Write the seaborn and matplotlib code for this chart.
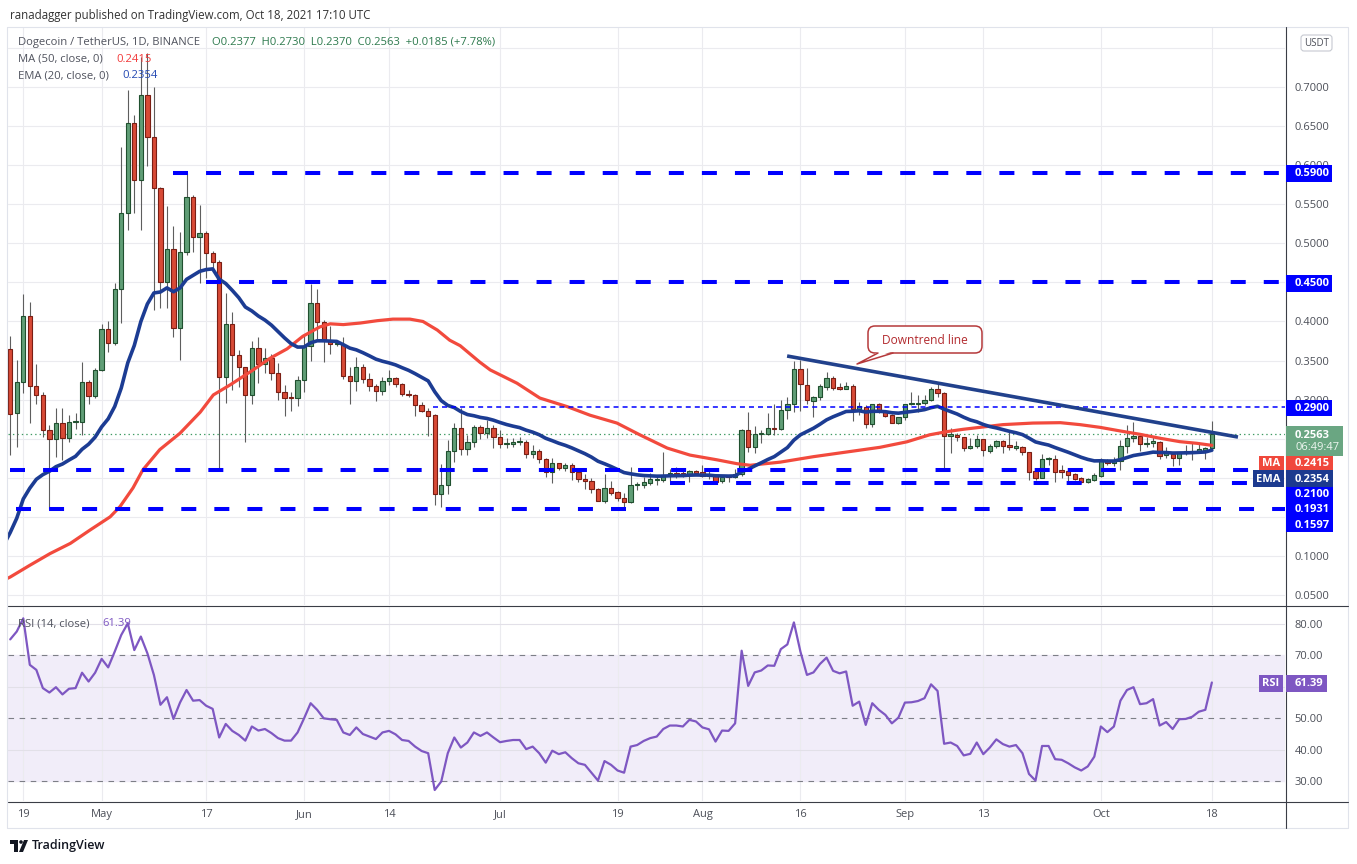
import numpy as np
import pandas as pd
import matplotlib
matplotlib.use("Agg")
import matplotlib.pyplot as plt
import seaborn as sns
from matplotlib.patches import Rectangle, FancyBboxPatch, Polygon, Circle
from matplotlib.lines import Line2D
from matplotlib.transforms import IdentityTransform

# daily candles, Apr 17 2021 .. Oct 18 2021 (DOGE/USDT)
opens = [
    0.3650, 0.2824, 0.3220, 0.4074, 0.3174, 0.3060, 0.2610, 0.2490, 0.2696, 0.2504,
    0.2709, 0.2717, 0.3220, 0.3046, 0.3379, 0.3903, 0.3728, 0.4410, 0.5392, 0.6535,
    0.5810, 0.6897, 0.6364, 0.5703, 0.4500, 0.4927, 0.3912, 0.4884, 0.5588, 0.5076,
    0.5127, 0.4880, 0.4756, 0.3284, 0.3963, 0.3566, 0.3413, 0.3054, 0.3656, 0.3451,
    0.3528, 0.3336, 0.3101, 0.3024, 0.3016, 0.3250, 0.3690, 0.4232, 0.3997, 0.3754,
    0.3707, 0.3712, 0.3306, 0.3242, 0.3421, 0.3259, 0.3178, 0.3114, 0.3238, 0.3272,
    0.3200, 0.3067, 0.3054, 0.2926, 0.2850, 0.2803, 0.1787, 0.1903, 0.2342, 0.2633,
    0.2364, 0.2453, 0.2645, 0.2569, 0.2633, 0.2526, 0.2428, 0.2437, 0.2454, 0.2454,
    0.2300, 0.2343, 0.2236, 0.2070, 0.2185, 0.2130, 0.2159, 0.2070, 0.1989, 0.1963,
    0.1856, 0.1707, 0.1873, 0.1814, 0.1737, 0.1694, 0.1903, 0.1903, 0.1937, 0.1972,
    0.1968, 0.2032, 0.2057, 0.2057, 0.2044, 0.2087, 0.2070, 0.2027, 0.2031, 0.1959,
    0.2023, 0.2006, 0.2044, 0.2607, 0.2389, 0.2556, 0.2560, 0.2637, 0.2624, 0.2867,
    0.2940, 0.3392, 0.3187, 0.2987, 0.3029, 0.3166, 0.3272, 0.3153, 0.3140, 0.3170,
    0.2876, 0.2910, 0.2684, 0.2940, 0.2855, 0.2799, 0.2705, 0.2773, 0.2940, 0.2944,
    0.2953, 0.2995, 0.3136, 0.3089, 0.2539, 0.2547, 0.2518, 0.2385, 0.2407, 0.2496,
    0.2347, 0.2406, 0.2470, 0.2419, 0.2385, 0.2398, 0.2325, 0.2087, 0.2001, 0.2236,
    0.2236, 0.2087, 0.2087, 0.2048, 0.1997, 0.1950, 0.1971, 0.2023, 0.2228, 0.2185,
    0.2215, 0.2411, 0.2513, 0.2534, 0.2432, 0.2441, 0.2462, 0.2291, 0.2304, 0.2249,
    0.2321, 0.2330, 0.2334, 0.2360, 0.2377]
highs = [
    0.3810, 0.3506, 0.4347, 0.4244, 0.3460, 0.3100, 0.2680, 0.2888, 0.2888, 0.2803,
    0.2824, 0.3485, 0.3250, 0.3400, 0.3967, 0.4000, 0.4487, 0.6236, 0.6961, 0.6641,
    0.7390, 0.7430, 0.7004, 0.5720, 0.5480, 0.5220, 0.5150, 0.5895, 0.5622, 0.5490,
    0.5160, 0.4905, 0.4786, 0.4360, 0.4125, 0.3630, 0.3420, 0.3750, 0.3796, 0.3656,
    0.3580, 0.3464, 0.3186, 0.3101, 0.3300, 0.3839, 0.4479, 0.4415, 0.4020, 0.3946,
    0.3740, 0.3796, 0.3413, 0.3540, 0.3450, 0.3336, 0.3195, 0.3293, 0.3378, 0.3293,
    0.3217, 0.3120, 0.3067, 0.2973, 0.2897, 0.2812, 0.2176, 0.2483, 0.2697, 0.2889,
    0.2547, 0.2675, 0.2675, 0.2739, 0.2675, 0.2611, 0.2505, 0.2505, 0.2526, 0.2483,
    0.2419, 0.2364, 0.2249, 0.2249, 0.2190, 0.2185, 0.2185, 0.2080, 0.2044, 0.1993,
    0.1870, 0.2044, 0.1958, 0.1835, 0.1801, 0.2142, 0.1950, 0.2014, 0.2057, 0.2036,
    0.2334, 0.2117, 0.2134, 0.2100, 0.2100, 0.2100, 0.2164, 0.2087, 0.2040, 0.2023,
    0.2031, 0.2117, 0.2620, 0.2837, 0.2662, 0.2611, 0.2825, 0.2940, 0.2995, 0.3038,
    0.3499, 0.3507, 0.3409, 0.3046, 0.3196, 0.3358, 0.3302, 0.3217, 0.3230, 0.3196,
    0.2974, 0.2931, 0.2945, 0.2953, 0.2860, 0.2816, 0.2782, 0.2945, 0.3093, 0.3059,
    0.3059, 0.3166, 0.3208, 0.3102, 0.2633, 0.2577, 0.2526, 0.2505, 0.2547, 0.2500,
    0.2428, 0.2483, 0.2483, 0.2581, 0.2470, 0.2411, 0.2330, 0.2121, 0.2304, 0.2261,
    0.2291, 0.2163, 0.2100, 0.2057, 0.2006, 0.1993, 0.2057, 0.2249, 0.2236, 0.2270,
    0.2483, 0.2675, 0.2718, 0.2568, 0.2517, 0.2526, 0.2475, 0.2398, 0.2313, 0.2334,
    0.2419, 0.2441, 0.2453, 0.2398, 0.2730]
lows = [
    0.2290, 0.2398, 0.3080, 0.2696, 0.2950, 0.2525, 0.1595, 0.2270, 0.2227, 0.2460,
    0.2630, 0.2547, 0.2950, 0.3016, 0.3370, 0.3613, 0.3700, 0.3976, 0.5170, 0.5392,
    0.5170, 0.5990, 0.4146, 0.4167, 0.4167, 0.3805, 0.3506, 0.4850, 0.4893, 0.4487,
    0.4550, 0.4660, 0.2099, 0.2952, 0.3123, 0.3165, 0.2461, 0.2939, 0.3208, 0.3336,
    0.3250, 0.2995, 0.2794, 0.2858, 0.2922, 0.3101, 0.3498, 0.3762, 0.3485, 0.3583,
    0.3680, 0.3270, 0.2943, 0.3114, 0.3217, 0.3114, 0.2986, 0.3059, 0.3187, 0.3165,
    0.3046, 0.3037, 0.2794, 0.2845, 0.2538, 0.1651, 0.1621, 0.1792, 0.2206, 0.2291,
    0.2291, 0.2398, 0.2496, 0.2505, 0.2377, 0.2377, 0.2377, 0.2398, 0.2419, 0.2249,
    0.2249, 0.2185, 0.2006, 0.1937, 0.2100, 0.2091, 0.1972, 0.1950, 0.1856, 0.1801,
    0.1700, 0.1681, 0.1779, 0.1703, 0.1588, 0.1673, 0.1843, 0.1865, 0.1907, 0.1907,
    0.1950, 0.1959, 0.1993, 0.2010, 0.1950, 0.2044, 0.2014, 0.1980, 0.1929, 0.1937,
    0.1946, 0.1997, 0.2023, 0.2334, 0.2313, 0.2441, 0.2548, 0.2547, 0.2611, 0.2748,
    0.2846, 0.2859, 0.2944, 0.2773, 0.2995, 0.3123, 0.3123, 0.3123, 0.3132, 0.2727,
    0.2803, 0.2633, 0.2646, 0.2833, 0.2782, 0.2697, 0.2688, 0.2739, 0.2931, 0.2846,
    0.2931, 0.2982, 0.3038, 0.2129, 0.2313, 0.2475, 0.2343, 0.2364, 0.2377, 0.2279,
    0.2313, 0.2377, 0.2321, 0.2355, 0.2355, 0.2291, 0.1971, 0.1971, 0.1993, 0.2163,
    0.1950, 0.1993, 0.1937, 0.1971, 0.1937, 0.1937, 0.1963, 0.2006, 0.2163, 0.2151,
    0.2099, 0.2321, 0.2462, 0.2347, 0.2389, 0.2398, 0.2236, 0.2249, 0.2151, 0.2163,
    0.2291, 0.2227, 0.2313, 0.2236, 0.2370]
closes = [
    0.2815, 0.3220, 0.4074, 0.3174, 0.3060, 0.2610, 0.2490, 0.2696, 0.2504, 0.2709,
    0.2726, 0.3220, 0.3046, 0.3379, 0.3903, 0.3728, 0.4410, 0.5392, 0.6535, 0.5810,
    0.6897, 0.6364, 0.5703, 0.4500, 0.4927, 0.3912, 0.4884, 0.5588, 0.5076, 0.5127,
    0.4880, 0.4756, 0.3284, 0.3963, 0.3566, 0.3413, 0.3054, 0.3656, 0.3451, 0.3528,
    0.3336, 0.3101, 0.3016, 0.3016, 0.3250, 0.3690, 0.4232, 0.3997, 0.3754, 0.3707,
    0.3712, 0.3306, 0.3242, 0.3421, 0.3259, 0.3178, 0.3114, 0.3238, 0.3272, 0.3200,
    0.3067, 0.3054, 0.2926, 0.2850, 0.2794, 0.1787, 0.1903, 0.2342, 0.2633, 0.2364,
    0.2453, 0.2645, 0.2569, 0.2633, 0.2526, 0.2428, 0.2437, 0.2458, 0.2466, 0.2300,
    0.2343, 0.2236, 0.2070, 0.2185, 0.2130, 0.2159, 0.2070, 0.1989, 0.1963, 0.1852,
    0.1707, 0.1873, 0.1810, 0.1737, 0.1694, 0.1903, 0.1910, 0.1946, 0.1980, 0.1989,
    0.2032, 0.2057, 0.2032, 0.2044, 0.2087, 0.2057, 0.2027, 0.2020, 0.1950, 0.2006,
    0.2006, 0.2044, 0.2607, 0.2389, 0.2556, 0.2573, 0.2633, 0.2624, 0.2867, 0.2940,
    0.3392, 0.3196, 0.2995, 0.3029, 0.3174, 0.3272, 0.3153, 0.3140, 0.3170, 0.2876,
    0.2919, 0.2684, 0.2940, 0.2855, 0.2795, 0.2705, 0.2773, 0.2940, 0.2948, 0.2961,
    0.2995, 0.3136, 0.3081, 0.2539, 0.2547, 0.2518, 0.2385, 0.2407, 0.2496, 0.2355,
    0.2406, 0.2470, 0.2410, 0.2389, 0.2402, 0.2325, 0.2078, 0.1997, 0.2236, 0.2241,
    0.2078, 0.2078, 0.2040, 0.1988, 0.1950, 0.1984, 0.2035, 0.2228, 0.2185, 0.2215,
    0.2406, 0.2505, 0.2534, 0.2428, 0.2449, 0.2475, 0.2283, 0.2313, 0.2257, 0.2325,
    0.2334, 0.2343, 0.2364, 0.2377, 0.2563]

# RSI(14) as plotted under the candles
rsi_values = [
    75.1, 77.6, 81.8, 67.0, 65.4, 59.6, 58.2, 59.9, 57.6, 59.4,
    59.6, 64.5, 61.7, 64.5, 68.9, 66.2, 71.2, 76.5, 80.2, 71.7,
    76.0, 70.7, 63.8, 54.3, 56.7, 49.8, 55.0, 59.0, 55.6, 55.8,
    54.0, 53.0, 43.9, 48.2, 46.0, 44.7, 42.9, 47.4, 46.1, 46.6,
    45.3, 43.7, 42.9, 42.9, 45.5, 50.0, 54.8, 52.7, 50.0, 49.7,
    49.5, 45.5, 44.7, 47.1, 45.0, 44.2, 43.4, 45.5, 46.0, 44.9,
    43.1, 42.8, 41.0, 39.6, 38.9, 27.2, 29.9, 38.9, 43.9, 40.7,
    42.3, 45.5, 44.4, 45.5, 43.9, 42.4, 42.8, 43.1, 43.1, 40.2,
    41.0, 38.9, 35.9, 39.7, 38.6, 39.2, 37.3, 35.7, 35.2, 32.7,
    30.2, 36.4, 35.2, 33.4, 32.7, 41.0, 41.5, 42.8, 43.7, 44.2,
    46.6, 47.7, 47.7, 47.4, 49.5, 49.0, 47.1, 46.5, 42.6, 46.1,
    46.0, 48.4, 71.5, 60.3, 64.6, 65.2, 66.8, 66.7, 72.0, 73.5,
    80.5, 71.2, 63.8, 64.6, 67.3, 69.3, 65.1, 64.3, 64.9, 54.0,
    55.3, 47.9, 54.8, 52.7, 51.1, 48.4, 50.2, 55.0, 55.1, 55.5,
    56.4, 60.8, 58.7, 41.9, 42.3, 41.2, 38.2, 38.7, 42.3, 38.6,
    40.7, 43.3, 41.8, 41.0, 41.5, 38.9, 32.3, 30.2, 41.2, 41.2,
    37.0, 36.8, 35.7, 34.4, 33.4, 34.7, 37.8, 47.4, 45.6, 47.4,
    55.6, 59.0, 59.9, 54.5, 54.8, 56.1, 47.7, 48.8, 46.6, 49.7,
    49.8, 50.5, 52.1, 52.7, 61.39]

# MA(50) (day index, value)
ma_days = [-1, 0, 3.0, 6.1, 9.2, 12.2, 15.3, 16.8, 18.8, 20.3, 22.9, 26.0, 29.1, 31.1,
           33.7, 37.2, 39.8, 42.4, 44.8, 47.4, 49.0, 51.0, 53.6, 56.2, 58.6, 61.2,
           63.2, 65.4, 67.3, 68.9, 71.9, 73.5, 77.6, 81.1, 85.3, 88.8, 92.9, 96.4,
           100.6, 104.1, 108.2, 111.3, 113.3, 117.9, 123.0, 128.1, 133.2, 137.3,
           140.8, 143.4, 145.9, 150.0, 152.0, 156.6, 160.8, 163.8, 166.9, 169.9,
           173.0, 176.1, 179.1, 181.7, 184.0]
ma_values = [0.069, 0.073, 0.088, 0.103, 0.116, 0.133, 0.150, 0.163, 0.187, 0.210, 0.236,
             0.257, 0.284, 0.306, 0.319, 0.338, 0.353, 0.365, 0.381, 0.393, 0.397,
             0.396, 0.398, 0.401, 0.403, 0.403, 0.400, 0.389, 0.376, 0.369, 0.348,
             0.338, 0.321, 0.302, 0.291, 0.280, 0.270, 0.255, 0.238, 0.229, 0.223,
             0.218, 0.216, 0.220, 0.227, 0.233, 0.239, 0.246, 0.255, 0.259, 0.262,
             0.266, 0.268, 0.270, 0.2705, 0.268, 0.2645, 0.260, 0.2556, 0.2505,
             0.2462, 0.2441, 0.2415]
ema_seed = 0.114  # EMA(20) value just before the first candle

date_ticks = [2, 14, 30, 45, 58, 75, 93, 106, 121, 137, 149, 167, 184]
date_labels = ["19", "May", "17", "Jun", "14", "Jul", "19", "Aug", "16", "Sep", "13", "Oct", "18"]

price_ticks = [0.05, 0.10, 0.15, 0.20, 0.25, 0.30, 0.35, 0.40, 0.45, 0.50, 0.55, 0.60, 0.65, 0.70, 0.75]
hidden_price_ticks = [0.15, 0.20, 0.25, 0.75]  # covered by the scale badges
rsi_ticks = [30, 40, 50, 60, 70, 80]
hidden_rsi_ticks = [60]

level_prices = [0.59, 0.45, 0.21, 0.1931, 0.1597]
level_starts = [24.9, 30.0, 0.0, 101.0, 0.9]
resistance_price = 0.29
resistance_start = 64.7
trend_days = [118.96, 188.0]
trend_prices = [0.3558, 0.2521]

sns.set_theme(style="white")
plt.rcParams["font.family"] = ["Open Sans", "DejaVu Sans"]
plt.rcParams["lines.scale_dashes"] = False

W, H = 1357, 864
fig = plt.figure(figsize=(W / 100, H / 100), dpi=100)
fig.patch.set_facecolor("white")


def rect_px(x0, y0, x1, y1):
    return [x0 / W, 1 - y1 / H, (x1 - x0) / W, (y1 - y0) / H]


def P(x, y):
    return x / W, 1 - y / H


ax = fig.add_axes(rect_px(8, 27, 1285, 605))
ax2 = fig.add_axes(rect_px(8, 607, 1285, 801), sharex=ax)
X_LEFT, X_RIGHT = -0.34, 195.2
GRID = "#ebebef"
LABEL_C = "#4c4f58"

# ---- price panel ----
days = np.arange(len(closes))
o = np.array(opens)
c = np.array(closes)
h = np.maximum(np.array(highs), np.maximum(o, c))
l = np.minimum(np.array(lows), np.minimum(o, c))
up = c >= o
ax.vlines(days, l, h, color="#5e5e5e", lw=0.8, zorder=3)
body_low = np.minimum(o, c)
body_h = np.maximum(np.abs(c - o), 0.0016)
ax.bar(days, body_h, bottom=body_low, width=0.66,
       color=["#609e76" if u else "#d84a36" for u in up],
       edgecolor=["#20502f" if u else "#7a1e14" for u in up],
       linewidth=0.8, zorder=4)

alpha = 2 / 21
ema = [ema_seed]
for v in closes:
    ema.append(alpha * v + (1 - alpha) * ema[-1])
ema_df = pd.DataFrame({"day": np.arange(-1, len(closes)), "ema": ema})
ma_df = pd.DataFrame({"day": ma_days, "ma": ma_values})
sns.lineplot(data=ma_df, x="day", y="ma", ax=ax, color="#f24a3d", lw=2.3,
             zorder=5, sort=False, estimator=None)
sns.lineplot(data=ema_df, x="day", y="ema", ax=ax, color="#1c3c93", lw=2.6,
             zorder=5, sort=False, estimator=None)

for lv, st in zip(level_prices, level_starts):
    ax.plot([st, X_RIGHT], [lv, lv], color="#0000ff", lw=2.9,
            ls=(0, (10.8, 13.0)), solid_capstyle="butt", zorder=6)
ax.plot([resistance_start, X_RIGHT], [resistance_price] * 2, color="#0000ff",
        lw=1.1, ls=(0, (3.6, 2.9)), zorder=6)
ax.axhline(closes[-1], color="#3f9a63", lw=0.9, ls=(0, (1, 2.2)), zorder=2)
ax.plot(trend_days, trend_prices, color="#21418c", lw=2.6, solid_capstyle="butt", zorder=7)

ax.set_xlim(X_LEFT, X_RIGHT)
ax.set_ylim(0.0372, 0.7768)
ax.set_yticks(price_ticks)
ax.set_yticklabels(["" if any(abs(t - hdn) < 1e-9 for hdn in hidden_price_ticks)
                    else f"{t:.4f}" for t in price_ticks])
ax.yaxis.tick_right()
ax.tick_params(axis="y", length=0, pad=7, labelsize=8, labelcolor=LABEL_C)
ax.tick_params(axis="x", length=0, labelbottom=False)
ax.grid(True, color=GRID, lw=0.8)
ax.set_axisbelow(True)
ax.set_xlabel("")
ax.set_ylabel("")
for s in ax.spines.values():
    s.set_visible(False)

# ---- RSI panel ----
rsi_df = pd.DataFrame({"day": days, "rsi": rsi_values})
ax2.axhspan(30, 70, color="#f1edf9", zorder=0)
for g in (40, 60, 80):
    ax2.axhline(g, color="#e2e0e8", lw=0.8, zorder=1)
for g in (30, 50, 70):
    ax2.axhline(g, color="#7d7f87", lw=0.8, ls=(0, (4, 4)), zorder=1)
sns.lineplot(data=rsi_df, x="day", y="rsi", ax=ax2, color="#7e57c2", lw=1.6,
             zorder=4, sort=False, estimator=None)
ax2.set_ylim(23.7, 85.4)
ax2.set_yticks(rsi_ticks)
ax2.set_yticklabels(["" if t in hidden_rsi_ticks else f"{t:.2f}" for t in rsi_ticks])
ax2.yaxis.tick_right()
ax2.tick_params(axis="y", length=0, pad=7, labelsize=8, labelcolor=LABEL_C)
ax2.set_xticks(date_ticks)
ax2.set_xticklabels(date_labels)
ax2.tick_params(axis="x", length=0, pad=6, labelsize=8, labelcolor=LABEL_C)
ax2.grid(True, axis="x", color=GRID, lw=0.8)
ax2.set_axisbelow(True)
ax2.set_xlim(X_LEFT, X_RIGHT)
ax2.set_xlabel("")
ax2.set_ylabel("")
for s in ax2.spines.values():
    s.set_visible(False)


# ---- frame ----
def fline(xs, ys, color, lw=0.8):
    fig.add_artist(Line2D([x / W for x in xs], [1 - y / H for y in ys],
                          transform=fig.transFigure, color=color, lw=lw, zorder=9))


fline([7, 1348, 1348, 7, 7], [27, 27, 828, 828, 27], "#e0e3eb")
fline([8, 1348], [606, 606], "#3a3d46")
fline([8, 1348], [801.5, 801.5], "#3a3d46")
fline([1285.5, 1285.5], [27, 828], "#3a3d46")


# ---- price scale badges ----
def badge(x0, x1, yc, hgt, txt, fc, left=True, fs=8):
    fig.add_artist(Rectangle(P(x0, yc + hgt / 2), (x1 - x0) / W, hgt / H,
                             transform=fig.transFigure, fc=fc, ec="none", zorder=10))
    if left:
        fig.text(*P(x0 + 9, yc + 0.5), txt, ha="left", va="center", color="white",
                 fontsize=fs, fontweight="bold", zorder=11)
    else:
        fig.text(*P((x0 + x1) / 2, yc + 0.5), txt, ha="center", va="center",
                 color="white", fontsize=fs, fontweight="bold", zorder=11)


BLUE = "#0000ff"
badge(1286, 1332, 173.5, 17, "0.5900", BLUE)
badge(1286, 1332, 283, 17, "0.4500", BLUE)
badge(1286, 1332, 408, 16, "0.2900", BLUE)
fig.add_artist(Rectangle(P(1286, 456), 57 / W, 30 / H, transform=fig.transFigure,
                         fc="#6aa682", ec="none", zorder=10))
fig.text(*P(1295, 435), "0.2563", ha="left", va="center", color="white",
         fontsize=8, fontweight="bold", zorder=11)
fig.text(*P(1295, 448), "06:49:47", ha="left", va="center", color="#eef6f0",
         fontsize=8, zorder=11)
badge(1259, 1284, 463, 14, "MA", "#f0483c", left=False)
badge(1286, 1333, 463, 14, "0.2415", "#f0483c")
badge(1253, 1284, 478.5, 17, "EMA", "#1c3a8f", left=False)
badge(1286, 1333, 478.5, 17, "0.2354", "#1c3a8f")
badge(1286, 1333, 494.5, 15, "0.2100", BLUE)
badge(1286, 1333, 509.5, 15, "0.1931", BLUE)
badge(1286, 1333, 524.5, 15, "0.1597", BLUE)
badge(1259, 1283, 683.5, 17, "RSI", "#7e57c2", left=False)
badge(1286, 1327, 683.5, 17, "61.39", "#7e57c2")

fig.add_artist(FancyBboxPatch((1301, H - 51), 31, 16, boxstyle="round,pad=0,rounding_size=3",
                              transform=IdentityTransform(), fc="white", ec="#c6c9d1",
                              lw=0.8, zorder=10))
fig.text(*P(1316.5, 43.5), "USDT", ha="center", va="center", color=LABEL_C,
         fontsize=7, zorder=11)

# ---- header texts ----
fig.text(*P(10, 15), "ranadagger published on TradingView.com, Oct 18, 2021 17:10 UTC",
         color="#333333", fontsize=8.3, va="center")
fig.text(*P(18, 42), "Dogecoin / TetherUS, 1D, BINANCE", color="#50535e", fontsize=8.1,
         va="center", zorder=12)
fig.text(*P(212, 42), "O0.2377  H0.2730  L0.2370  C0.2563  +0.0185 (+7.78%)",
         color="#2e7a4e", fontsize=8.1, va="center", zorder=12)
fig.text(*P(18, 59), "MA (50, close, 0)", color="#50535e", fontsize=8.1, va="center", zorder=12)
fig.text(*P(116, 59), "0.2415", color="#f23a3a", fontsize=8.1, va="center", zorder=12)
fig.text(*P(18, 76), "EMA (20, close, 0)", color="#50535e", fontsize=8.1, va="center", zorder=12)
fig.text(*P(122, 76), "0.2354", color="#2449b3", fontsize=8.1, va="center", zorder=12)
fig.text(*P(18, 624), "RSI (14, close)", color="#50535e", fontsize=8.1, va="center", zorder=12)
fig.text(*P(102, 624), "61.39", color="#7e57c2", fontsize=8.1, va="center", zorder=12)

# ---- callout ----
RED_C = "#b5393b"
fig.add_artist(FancyBboxPatch((868, H - 353), 114, 27, boxstyle="round,pad=0,rounding_size=7",
                              transform=IdentityTransform(), fc="white", ec=RED_C,
                              lw=1.1, zorder=12))
fig.add_artist(Polygon([(879, H - 351.5), (857, H - 364), (892, H - 351.5)],
                       closed=True, transform=IdentityTransform(), fc="white",
                       ec="none", zorder=13))
fig.add_artist(Line2D([878, 857, 893], [H - 353, H - 364, H - 353],
                      transform=IdentityTransform(), color=RED_C, lw=1.1, zorder=14))
fig.text(*P(925, 340), "Downtrend line", ha="center", va="center", color="#b22a2e",
         fontsize=8.6, zorder=15)

# ---- footer logo ----
LOGO = "#131722"
fig.add_artist(Rectangle(P(10, 844), 8 / W, 4 / H, transform=fig.transFigure, fc=LOGO, ec="none"))
fig.add_artist(Rectangle(P(14, 852), 4 / W, 12 / H, transform=fig.transFigure, fc=LOGO, ec="none"))
fig.add_artist(Circle((21, H - 842), 1.8, transform=IdentityTransform(), fc=LOGO, ec="none"))
fig.add_artist(Polygon([(19, H - 852), (24, H - 840), (28, H - 840), (23, H - 852)],
                       closed=True, transform=IdentityTransform(), fc=LOGO, ec="none"))
fig.text(*P(32, 846), "TradingView", color=LOGO, fontsize=9, va="center", fontweight="semibold")

fig.savefig("out.png", dpi=100, facecolor="white")
